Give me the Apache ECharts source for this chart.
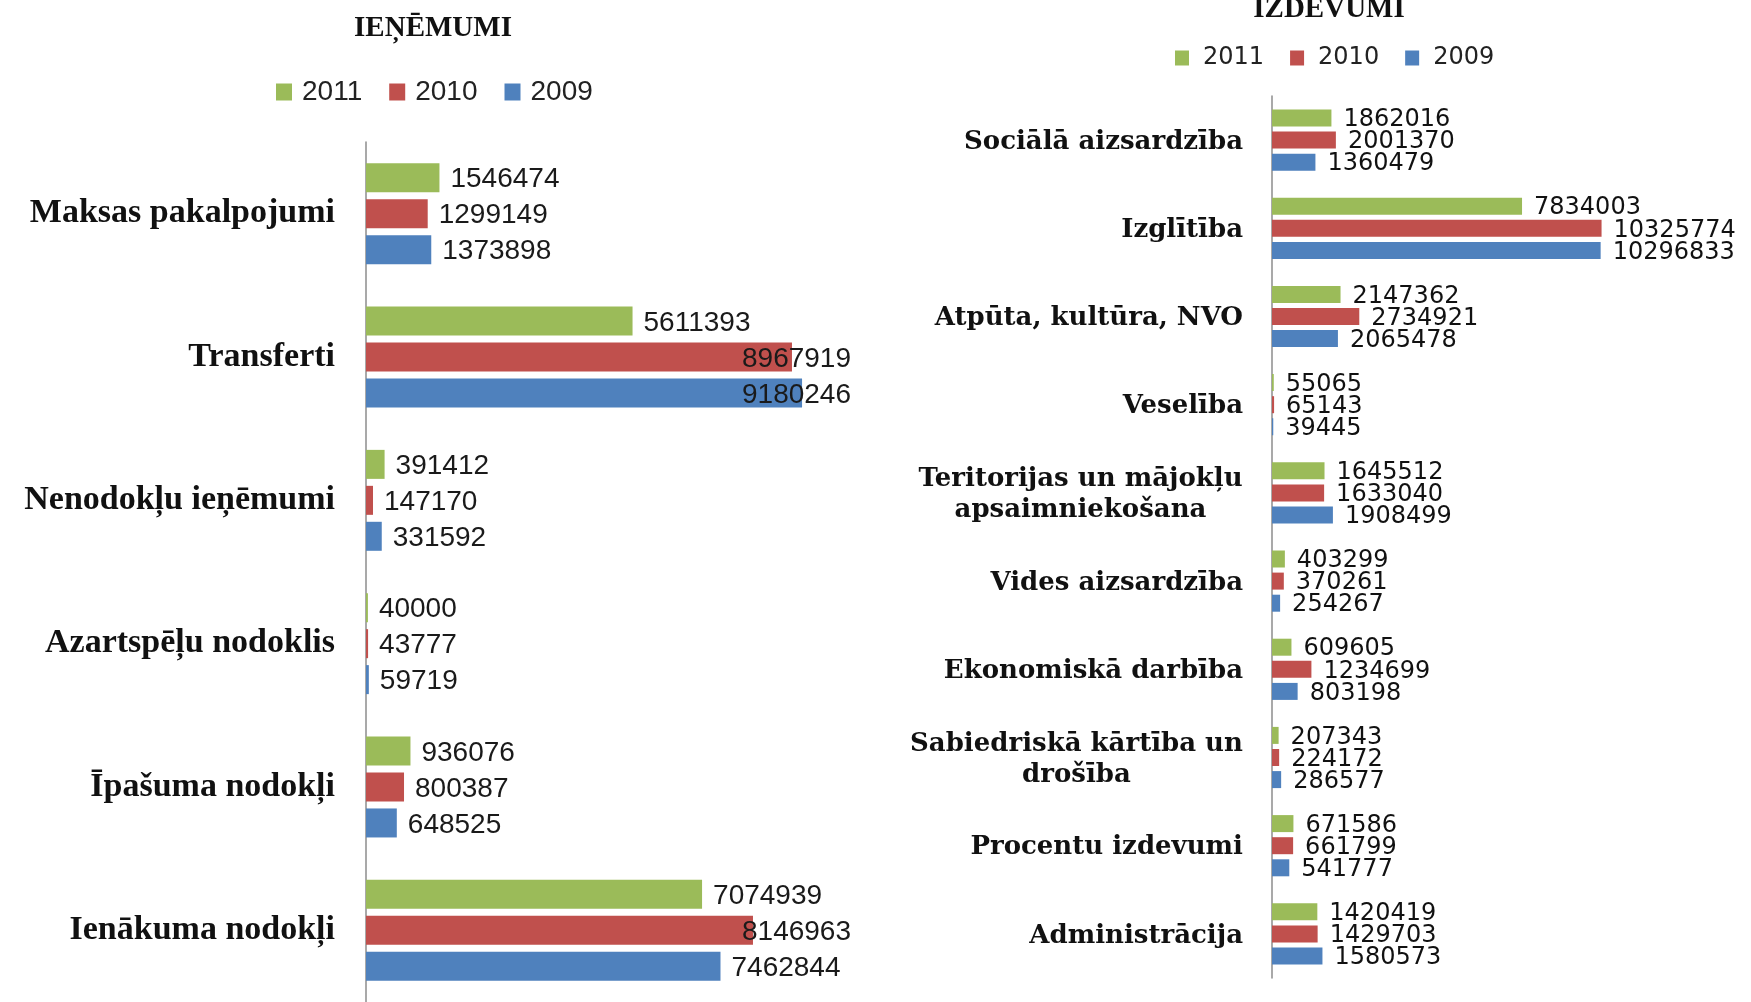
<!DOCTYPE html>
<html>
<head>
<meta charset="utf-8">
<script src="https://cdn.jsdelivr.net/npm/echarts@6/dist/echarts.min.js"></script>
<style>
  html, body { margin: 0; padding: 0; background: #fff; }
  #chart { width: 1751px; height: 1002px; }
</style>
</head>
<body>
<div id="chart"></div>
<script>
// ieņēmumi (left)
const incomeCats = ['Maksas pakalpojumi', 'Transferti', 'Nenodokļu ieņēmumi', 'Azartspēļu nodoklis', 'Īpašuma nodokļi', 'Ienākuma nodokļi'];
const income2011 = [1546474, 5611393, 391412, 40000, 936076, 7074939];
const income2010 = [1299149, 8967919, 147170, 43777, 800387, 8146963];
const income2009 = [1373898, 9180246, 331592, 59719, 648525, 7462844];

// izdevumi (right)
const expenseCats = ['Sociālā aizsardzība', 'Izglītība', 'Atpūta, kultūra, NVO', 'Veselība', 'Teritorijas un mājokļu\napsaimniekošana', 'Vides aizsardzība', 'Ekonomiskā darbība', 'Sabiedriskā kārtība un\ndrošība', 'Procentu izdevumi', 'Administrācija'];
const expense2011 = [1862016, 7834003, 2147362, 55065, 1645512, 403299, 609605, 207343, 671586, 1420419];
const expense2010 = [2001370, 10325774, 2734921, 65143, 1633040, 370261, 1234699, 224172, 661799, 1429703];
const expense2009 = [1360479, 10296833, 2065478, 39445, 1908499, 254267, 803198, 286577, 541777, 1580573];

const years = ['2011', '2010', '2009'];
const colors = ['#9bbb59', '#c0504d', '#4f81bd'];

const chart = echarts.init(document.getElementById('chart'));

// multi-line labels on the right are centred line by line
const rightFont = 'bold 26px "DejaVu Serif"';
const ctx = document.createElement('canvas').getContext('2d');
ctx.font = rightFont;
const rich = {};
expenseCats.forEach((c, i) => {
  if (c.indexOf('\n') < 0) return;
  const w = Math.max(...c.split('\n').map(l => ctx.measureText(l).width));
  rich['m' + i] = { width: Math.ceil(w), align: 'center', fontFamily: 'DejaVu Serif', fontWeight: 'bold', fontSize: 26, lineHeight: 31, color: '#111' };
});

// labels that run past this x are pulled back (as in the original)
const LEFT_LIMIT = 851;
function clampLabel(params) {
  const r = params.labelRect;
  if (r.x + r.width > LEFT_LIMIT) return { dx: LEFT_LIMIT - (r.x + r.width), dy: 2 };
  return { dy: 2 };
}

const leftData = [income2011, income2010, income2009];
const rightData = [expense2011, expense2010, expense2009];

const series = [];
years.forEach((y, i) => {
  series.push({
    name: y, type: 'bar', xAxisIndex: 0, yAxisIndex: 0,
    data: leftData[i], barWidth: 29, barGap: '24%',
    itemStyle: { color: colors[i] },
    label: { show: true, position: 'right', distance: 11, color: '#1a1a1a',
      fontFamily: 'Liberation Sans', fontSize: 28 },
    labelLayout: clampLabel
  });
});
years.forEach((y, i) => {
  series.push({
    name: y, type: 'bar', xAxisIndex: 1, yAxisIndex: 1,
    data: rightData[i], barWidth: 17, barGap: '30%',
    itemStyle: { color: colors[i] },
    label: { show: true, position: 'right', distance: 12, offset: [0, 2], color: '#111',
      fontFamily: 'DejaVu Sans', fontSize: 24 }
  });
});

const option = {
  animation: false,
  backgroundColor: '#fff',
  title: [
    { text: 'IEŅĒMUMI', left: 428, top: 9, textAlign: 'center',
      textStyle: { fontFamily: 'Liberation Serif', fontWeight: 'bold', fontSize: 29, color: '#111' } },
    { text: 'IZDEVUMI', left: 1324, top: -10, textAlign: 'center',
      textStyle: { fontFamily: 'Liberation Serif', fontWeight: 'bold', fontSize: 29, color: '#111' } }
  ],
  legend: [
    { data: years, left: 271, top: 73, icon: 'rect', itemWidth: 16, itemHeight: 17, itemGap: 27,
      textStyle: { fontFamily: 'Liberation Sans', fontSize: 28, color: '#222', padding: [0, 0, 0, 5] } },
    { data: years, left: 1170, top: 41, icon: 'rect', itemWidth: 14, itemHeight: 15, itemGap: 26,
      textStyle: { fontFamily: 'DejaVu Sans', fontSize: 24, color: '#222', padding: [0, 0, 0, 9] } }
  ],
  grid: [
    { left: 366, top: 142, width: 475, height: 866 },
    { left: 1272, top: 96, width: 383, height: 882 }
  ],
  xAxis: [
    { gridIndex: 0, type: 'value', min: 0, max: 10000000, show: false },
    { gridIndex: 1, type: 'value', min: 0, max: 12000000, show: false }
  ],
  yAxis: [
    { gridIndex: 0, type: 'category', inverse: true, data: incomeCats,
      axisLine: { lineStyle: { color: '#8c8c8c', width: 1.5 } },
      axisTick: { show: false },
      axisLabel: { margin: 31, padding: [6, 0, 0, 0], color: '#111', fontFamily: 'Liberation Serif', fontWeight: 'bold', fontSize: 34 } },
    { gridIndex: 1, type: 'category', inverse: true, data: expenseCats,
      axisLine: { lineStyle: { color: '#8c8c8c', width: 1.5 } },
      axisTick: { show: false },
      axisLabel: { margin: 29, padding: [4, 0, 0, 0], color: '#111', fontFamily: 'DejaVu Serif', fontWeight: 'bold', fontSize: 26, lineHeight: 31,
        formatter: (v, i) => v.indexOf('\n') < 0 ? v : v.split('\n').map(l => '{m' + i + '|' + l + '}').join('\n'),
        rich: rich } }
  ],
  series: series
};

chart.setOption(option);
window.addEventListener('resize', () => chart.resize());
</script>
</body>
</html>
